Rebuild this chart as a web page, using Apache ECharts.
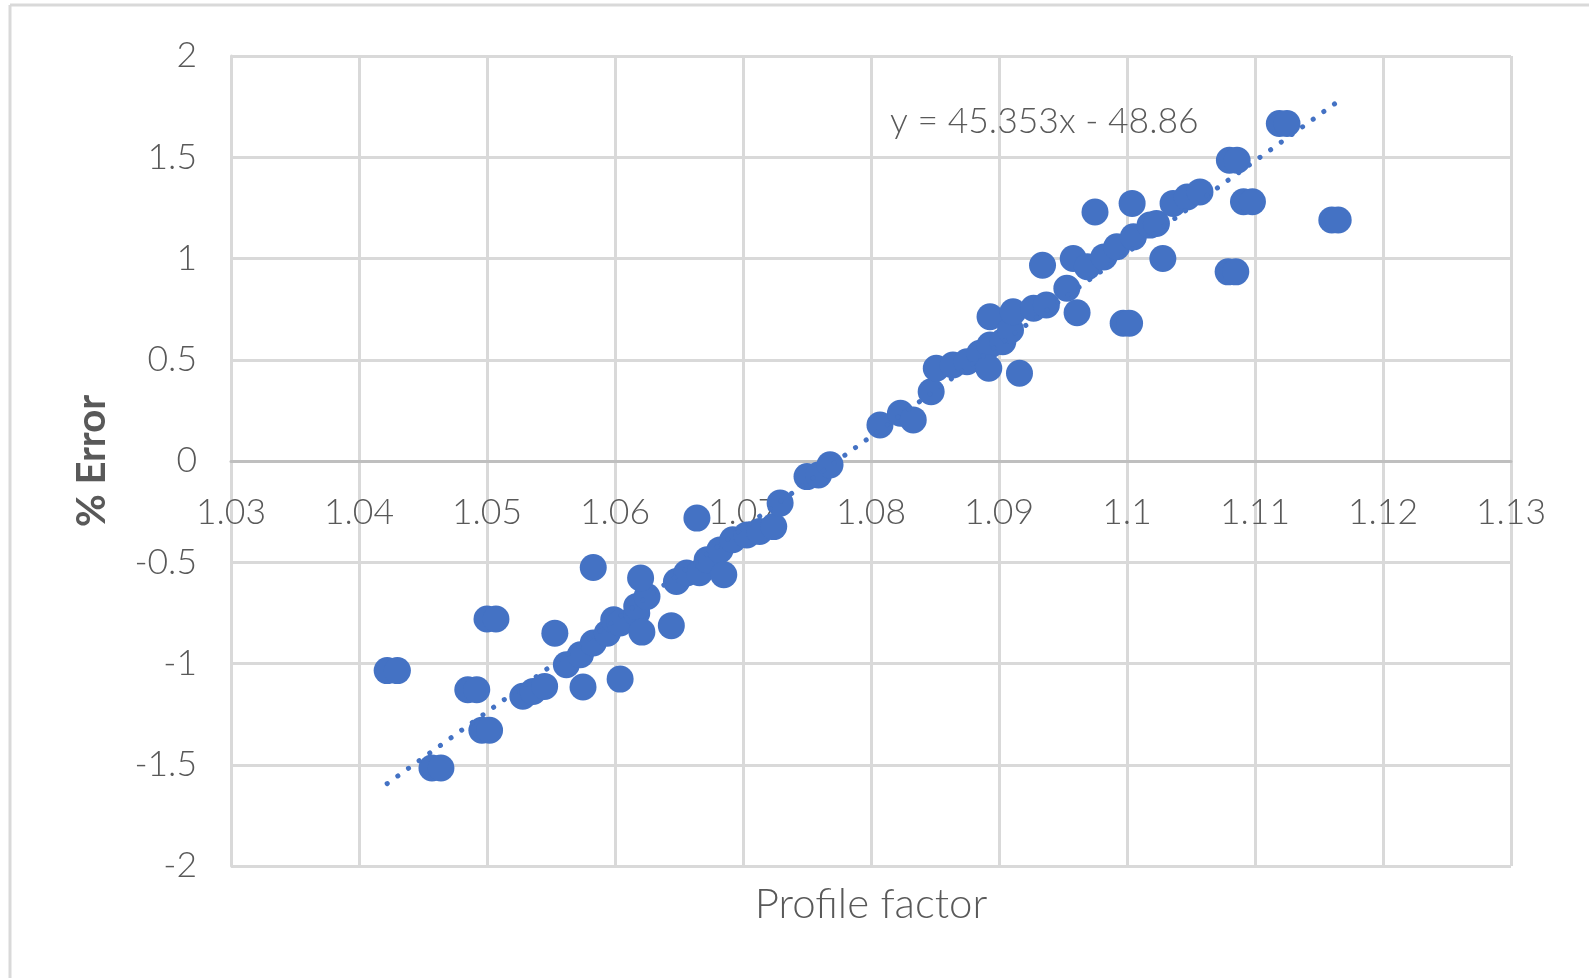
<!DOCTYPE html>
<html>
<head>
<meta charset="utf-8">
<script src="https://cdn.jsdelivr.net/npm/echarts@6/dist/echarts.min.js"></script>
<style>
  html, body { margin: 0; padding: 0; background: #ffffff; }
  #chart { width: 1589px; height: 978px; }
</style>
</head>
<body>
<div id="chart"></div>
<script>
// ---- Data ----
const xTicks = [1.03, 1.04, 1.05, 1.06, 1.07, 1.08, 1.09, 1.10, 1.11, 1.12, 1.13];
const yTicks = [-2, -1.5, -1, -0.5, 0, 0.5, 1, 1.5, 2];

const profileFactor = [
  1.0422, 1.0430, 1.0457, 1.0464, 1.0485, 1.0492, 1.0496, 1.0502, 1.0500, 1.0507,
  1.0528, 1.0536, 1.0545, 1.0553, 1.0562, 1.0573, 1.0583, 1.0575, 1.0583,
  1.0594, 1.0599, 1.0604, 1.0617, 1.0617, 1.0604, 1.0621, 1.0625, 1.0620, 1.0644,
  1.0648, 1.0656, 1.0666, 1.0664, 1.0672, 1.0682, 1.0685, 1.0692, 1.0703,
  1.0713, 1.0724, 1.0729, 1.0750, 1.0759, 1.0768,
  1.0807, 1.0823, 1.0833, 1.0847, 1.0851, 1.0864, 1.0875, 1.0885, 1.0893,
  1.0892, 1.0916, 1.0893, 1.0903, 1.0909, 1.0911, 1.0927, 1.0937,
  1.0934, 1.0953, 1.0958, 1.0961, 1.0969, 1.0982, 1.0992, 1.1005, 1.1018, 1.1023,
  1.0975, 1.0997, 1.1002, 1.1004, 1.1028, 1.1036, 1.1047, 1.1057,
  1.1079, 1.1085, 1.1080, 1.1086, 1.1091, 1.1098, 1.1119, 1.1125, 1.1160, 1.1165
];
const percentError = [
  -1.035, -1.035, -1.516, -1.516, -1.13, -1.13, -1.33, -1.33, -0.78, -0.78,
  -1.162, -1.138, -1.113, -0.85, -1.006, -0.957, -0.899, -1.116, -0.526,
  -0.85, -0.784, -0.80, -0.751, -0.718, -1.077, -0.845, -0.669, -0.578, -0.813,
  -0.595, -0.553, -0.552, -0.282, -0.488, -0.439, -0.562, -0.389, -0.365,
  -0.348, -0.324, -0.208, -0.077, -0.069, -0.019,
  0.178, 0.236, 0.203, 0.342, 0.458, 0.474, 0.49, 0.532, 0.573,
  0.458, 0.433, 0.712, 0.589, 0.647, 0.737, 0.754, 0.770,
  0.967, 0.853, 1.0, 0.732, 0.959, 1.008, 1.058, 1.107, 1.165, 1.173,
  1.23, 0.68, 0.68, 1.272, 1.0, 1.272, 1.304, 1.329,
  0.934, 0.934, 1.485, 1.485, 1.28, 1.28, 1.667, 1.667, 1.19, 1.19
];

// Linear trendline from the chart's equation
const trendSlope = 45.353;
const trendIntercept = -48.86;
const trendLabel = 'y = 45.353x - 48.86';

// ---- Build series data ----
const points = profileFactor.map((x, i) => [x, percentError[i]]);
const xMin = Math.min(...profileFactor);
const xMax = Math.max(...profileFactor);
const trendData = [xMin, xMax].map(x => [x, trendSlope * x + trendIntercept]);

const FONT = 'Lato, "Open Sans", sans-serif';
const TEXT = '#595959';
const GRID = '#d9d9d9';

const chart = echarts.init(document.getElementById('chart'), null, { renderer: 'canvas' });

chart.setOption({
  backgroundColor: '#ffffff',
  animation: false,
  grid: { left: 231, top: 56, right: 78, bottom: 112, containLabel: false, outerBoundsMode: 'none' },
  xAxis: {
    type: 'value',
    min: xTicks[0],
    max: xTicks[xTicks.length - 1],
    interval: 0.01,
    name: 'Profile factor',
    nameLocation: 'middle',
    nameGap: 422,
    nameTextStyle: { fontFamily: FONT, fontSize: 42, color: TEXT, fontWeight: 300 },
    axisLine: { show: true, onZero: false, lineStyle: { color: '#bfbfbf', width: 3 } },
    axisTick: { show: false },
    axisLabel: {
      fontFamily: FONT, fontSize: 35.5, color: TEXT, margin: 34, fontWeight: 300,
      showMinLabel: true, showMaxLabel: true,
      formatter: v => String(Math.round(v * 100) / 100)
    },
    splitLine: { show: true, lineStyle: { color: GRID, width: 3 } }
  },
  yAxis: {
    type: 'value',
    min: yTicks[0],
    max: yTicks[yTicks.length - 1],
    interval: 0.5,
    name: '% Error',
    nameLocation: 'middle',
    nameGap: 119,
    nameTextStyle: { fontFamily: FONT, fontSize: 40, color: TEXT, fontWeight: 'bold' },
    axisLine: { show: true, lineStyle: { color: GRID, width: 3 } },
    axisTick: { show: false },
    axisLabel: {
      fontFamily: FONT, fontSize: 35.5, color: TEXT, margin: 34, fontWeight: 300,
      showMinLabel: true, showMaxLabel: true
    },
    splitLine: { show: true, lineStyle: { color: GRID, width: 3 } }
  },
  series: [
    {
      type: 'scatter',
      data: points,
      symbol: 'circle',
      symbolSize: 27,
      itemStyle: { color: '#4472C4', opacity: 1 },
      z: 2
    },
    {
      type: 'line',
      data: trendData,
      showSymbol: false,
      symbol: 'none',
      lineStyle: { color: '#4472C4', width: 5, type: [0.1, 13], cap: 'round' },
      z: 3,
      silent: true
    }
  ],
  graphic: [
    { type: 'line', shape: { x1: 10, y1: 5, x2: 1589, y2: 5 }, style: { stroke: GRID, lineWidth: 3 } },
    { type: 'line', shape: { x1: 10, y1: 5, x2: 10, y2: 978 }, style: { stroke: GRID, lineWidth: 3 } },
    {
      type: 'text', left: 890, top: 104, z: 10,
      style: { text: trendLabel, fontFamily: FONT, fontSize: 35.5, fill: TEXT, fontWeight: 300 }
    }
  ]
});

// Place the horizontal axis where y = 0 (as in the reference), via the library's scale
const zeroY = chart.convertToPixel({ yAxisIndex: 0 }, 0);
const bottomY = chart.convertToPixel({ yAxisIndex: 0 }, yTicks[0]);
chart.setOption({ xAxis: { offset: zeroY - bottomY } });
</script>
</body>
</html>
